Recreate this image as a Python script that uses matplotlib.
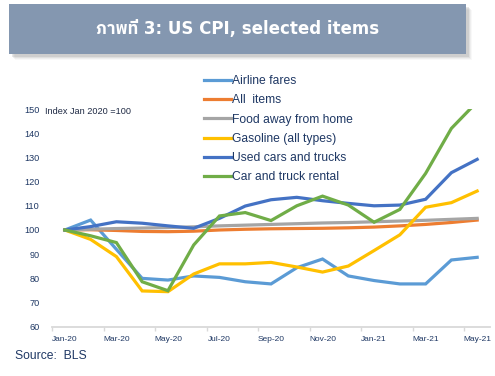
import matplotlib
matplotlib.use("Agg")
import matplotlib.pyplot as plt
import numpy as np
from matplotlib import font_manager
from matplotlib.ft2font import FT2Font
from matplotlib.patches import Rectangle

# ข้อมูล: ดัชนี CPI สหรัฐ (Jan 2020 = 100)
months = ["Jan-20", "Feb-20", "Mar-20", "Apr-20", "May-20", "Jun-20", "Jul-20",
          "Aug-20", "Sep-20", "Oct-20", "Nov-20", "Dec-20", "Jan-21", "Feb-21",
          "Mar-21", "Apr-21", "May-21"]
airline = [100, 104.1, 92, 80.0, 79.3, 81, 80.4, 78.6, 77.7, 84.4, 88, 81,
           79.1, 77.7, 77.7, 87.6, 88.7]
all_items = [100, 100.1, 99.8, 99.4, 99.3, 99.5, 100, 100.3, 100.5, 100.6,
             100.7, 100.9, 101.2, 101.7, 102.3, 103.1, 104.1]
food_away = [100, 100.3, 100.6, 100.8, 101, 101.3, 101.7, 102, 102.3, 102.6,
             102.9, 103.1, 103.4, 103.7, 104, 104.4, 104.8]
gasoline = [100, 96.1, 89, 74.8, 74.5, 81.8, 86, 86, 86.6, 84.7, 82.6, 85.1,
            91.5, 98, 109.4, 111.3, 116.1]
used_cars = [100, 101.4, 103.4, 102.8, 101.7, 100.7, 104.8, 109.9, 112.5,
             113.5, 112.1, 111, 110, 110.3, 112.7, 123.7, 129.2]
car_rental = [100, 97.6, 94.8, 78.6, 74.9, 93.8, 105.8, 107.2, 103.9, 110,
              114, 110.3, 103.2, 108.5, 123.4, 142, 153]

series = [
    ("Airline fares", airline, "#5B9BD5"),
    ("All  items", all_items, "#ED7D31"),
    ("Food away from home", food_away, "#A5A5A5"),
    ("Gasoline (all types)", gasoline, "#FFC000"),
    ("Used cars and trucks", used_cars, "#4472C4"),
    ("Car and truck rental", car_rental, "#70AD47"),
]
navy = "#1F3864"


def thai_font():
    """หา font ที่มีอักษรไทย (ถ้ามี)"""
    for f in font_manager.fontManager.ttflist:
        if "Thai" in f.name:
            return f.name
    for f in font_manager.fontManager.ttflist:
        if "CJK" in f.name:
            continue
        try:
            if 0x0E20 in FT2Font(f.fname).get_charmap():
                return f.name
        except Exception:
            pass
    return None


plt.rcParams["font.family"] = ["Liberation Sans", "DejaVu Sans"]
th = thai_font()
title_family = ["DejaVu Sans"] + ([th] if th else [])

fig = plt.figure(figsize=(4.95, 3.76), dpi=100)

# กล่องหัวข้อ + เงา
W, H = 495, 376
bx, by, bw, bh = 9, 4, 457, 50
for k, a in [(6, 0.05), (5, 0.08), (4, 0.12), (3, 0.18)]:
    fig.patches.append(Rectangle(((bx + k) / W, 1 - (by + bh + k) / H), bw / W, bh / H,
                                 transform=fig.transFigure, color="#7F7F7F", alpha=a, lw=0))
fig.patches.append(Rectangle((bx / W, 1 - (by + bh) / H), bw / W, bh / H,
                             transform=fig.transFigure, color="#8497B0", lw=0))
fig.text((bx + bw / 2) / W, 1 - (by + bh / 2) / H, "ภาพที่ 3: US CPI, selected items",
         ha="center", va="center", color="white", fontsize=12, fontweight="bold",
         family=title_family)

ax = fig.add_axes([0.105, 0.131, 0.885, 0.579])
x = np.arange(len(months))
for name, vals, col in series:
    ax.plot(x, vals, color=col, lw=2.3, label=name, solid_joinstyle="miter")

ax.set_xlim(-0.5, len(months) - 0.5)
ax.set_ylim(60, 150)
ax.set_yticks(range(60, 151, 10))
ax.tick_params(axis="y", length=0, pad=9, labelsize=6.6, labelcolor=navy)

ax.set_xticks(np.arange(-0.5, len(months) - 1, 2))
ax.set_xticklabels([])
ax.tick_params(axis="x", which="major", length=3, color="#D9D9D9", width=1)
ax.set_xticks(x[::2], minor=True)
ax.set_xticklabels(months[::2], minor=True)
ax.tick_params(axis="x", which="minor", length=0, pad=7, labelsize=6, labelcolor=navy)

for s in ["top", "right", "left"]:
    ax.spines[s].set_visible(False)
ax.spines["bottom"].set_color("#D9D9D9")
ax.spines["bottom"].set_linewidth(1.3)

ax.text(45 / W, 1 - 111.5 / H, "Index Jan 2020 =100", transform=fig.transFigure,
        fontsize=6.6, color="#1F2A44", va="center", ha="left")

fig.legend(*ax.get_legend_handles_labels(), loc="upper left",
           bbox_to_anchor=(204 / W, 1 - 75 / H), frameon=False, borderpad=0,
           borderaxespad=0, fontsize=8.7, labelcolor=navy, handlelength=2.2,
           handletextpad=0.15, labelspacing=0.6)

fig.text(15 / W, 1 - 356 / H, "Source:  BLS", fontsize=8.7, color=navy,
         va="center", ha="left")

fig.savefig("out.png", dpi=100)
